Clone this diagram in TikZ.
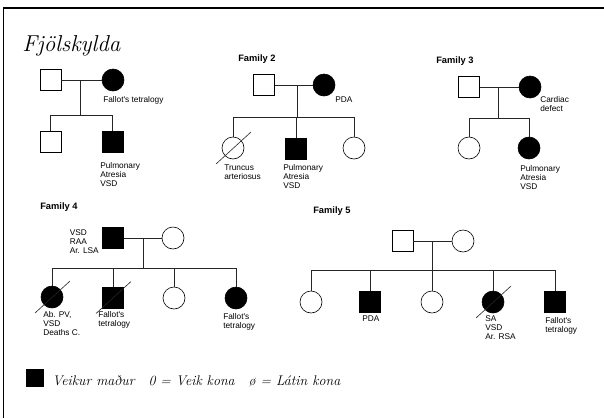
\documentclass[tikz,border=0pt]{standalone}
\usepackage{fontspec}
\newfontfamily\labelfont{Liberation Sans}
\tikzset{
  male/.style={draw, rectangle, minimum size=21pt, inner sep=0pt},
  female/.style={draw, circle, minimum size=22pt, inner sep=0pt},
  ill/.style={fill=black},
  note/.style={font=\labelfont\fontsize{8.3}{9}\selectfont, align=left, anchor=north west, inner sep=0pt},
  famlabel/.style={font=\labelfont\bfseries\fontsize{9.3}{10}\selectfont, anchor=north west, inner sep=0pt},
  tie/.style={line width=0.6pt, black!85},
}
\begin{document}
\begin{tikzpicture}[x=1pt, y=-1pt, line width=0.6pt]
        \useasboundingbox (0,0) rectangle (604,418);
        \draw[line width=1.2pt] (3.5,418) -- (3.5,8) -- (604,8);

        % Title
        \node[anchor=base west, inner sep=0pt, font=\itshape\fontsize{23}{25}\selectfont] (title) at (22,51) {Fjölskylda};

        % Family 1
        \node[male] (f1a) at (50.5,80) {};
        \node[female, ill] (f1b) at (113,80) {};
        \node[male] (f1c) at (50.5,141.5) {};
        \node[male, ill] (f1d) at (112.5,141.5) {};
        \coordinate (f1m) at (80,80);
        \coordinate (f1s) at (80,115);

        % Family 2
        \node[famlabel] (f2lab) at (238,54) {Family 2};
        \node[male] (f2a) at (264,85) {};
        \node[female, ill] (f2b) at (324,85) {};
        \node[female] (f2c) at (233,148) {};
        \node[male, ill] (f2d) at (296,148.5) {};
        \node[female] (f2e) at (354,148) {};
        \coordinate (f2m) at (297,85);
        \coordinate (f2s) at (297,117);

        % Family 3
        \node[famlabel] (f3lab) at (436,56) {Family 3};
        \node[male] (f3a) at (469,87) {};
        \node[female, ill] (f3b) at (530,87) {};
        \node[female] (f3c) at (469,148) {};
        \node[female, ill] (f3d) at (529,148) {};
        \coordinate (f3m) at (498,87);
        \coordinate (f3s) at (498,118);

        % Family 4
        \node[famlabel] (f4lab) at (40,202) {Family 4};
        \node[male, ill] (f4a) at (113,238) {};
        \node[female] (f4b) at (173,238) {};
        \node[female, ill] (f4c) at (52,297) {};
        \node[male, ill] (f4d) at (113,297.5) {};
        \node[female] (f4e) at (174,298) {};
        \node[female, ill] (f4f) at (236,298) {};
        \coordinate (f4m) at (143,238);
        \coordinate (f4s) at (143,268);

        % Family 5
        \node[famlabel] (f5lab) at (313,206) {Family 5};
        \node[male] (f5a) at (402.5,240.5) {};
        \node[female] (f5b) at (463,241) {};
        \node[female] (f5c) at (311,302) {};
        \node[male, ill] (f5d) at (370,302) {};
        \node[female] (f5e) at (432,302) {};
        \node[female, ill] (f5f) at (493,302) {};
        \node[male, ill] (f5g) at (555,302) {};
        \coordinate (f5m) at (432,241);
        \coordinate (f5s) at (432,270);

        % Marriages and descent
        \foreach \fam in {f1, f2, f3, f4, f5} {
            \draw[tie] (\fam a.east |- \fam m) -- (\fam b.west |- \fam m);
            \draw[tie] (\fam m) -- (\fam s);
        }

        % Sibships
        \draw[tie] (f1c.north) -- (f1c.north |- f1s) -- (f1d.north |- f1s) -- (f1d.north);
        \draw[tie] (f2c.north) -- (f2c.north |- f2s) -- (f2e.north |- f2s) -- (f2e.north);
        \draw[tie] (f3c.north) -- (f3c.north |- f3s) -- (f3d.north |- f3s) -- (f3d.north);
        \draw[tie] (f4c.north) -- (f4c.north |- f4s) -- (f4f.north |- f4s) -- (f4f.north);
        \draw[tie] (f5c.north) -- (f5c.north |- f5s) -- (f5g.north |- f5s) -- (f5g.north);
        \foreach \kid/\sib in {f2d/f2s, f4d/f4s, f4e/f4s, f5d/f5s, f5e/f5s, f5f/f5s}
            \draw[tie] (\kid.north) -- (\kid.north |- \sib);

        % Deceased
        \foreach \p in {f2c, f4c, f4d, f5f}
            \draw[tie] ([shift={(-17,16)}]\p.center) -- ([shift={(18,-16)}]\p.center);

        % Notes
        \node[note] (n1b) at (103,96) {Fallot's tetralogy};
        \node[note] (n1d) at (100,162) {Pulmonary\\Atresia\\VSD};
        \node[note] (n2b) at (335,96) {PDA};
        \node[note] (n2c) at (224,164) {Truncus\\arteriosus};
        \node[note] (n2d) at (283,164) {Pulmonary\\Atresia\\VSD};
        \node[note] (n3b) at (540,96) {Cardiac\\defect};
        \node[note] (n3d) at (520,165) {Pulmonary\\Atresia\\VSD};
        \node[note, anchor=north east] (n4a) at (99,229) {VSD\\RAA\\Ar. LSA};
        \node[note] (n4c) at (43,311) {Ab. PV,\\VSD\\Deaths C.};
        \node[note] (n4d) at (98,311) {Fallot's\\tetralogy};
        \node[note] (n4f) at (223,313) {Fallot's\\tetralogy};
        \node[note] (n5d) at (362,315) {PDA};
        \node[note] (n5f) at (485,315) {SA\\VSD\\Ar. RSA};
        \node[note] (n5g) at (545,317) {Fallot's\\tetralogy};

        % Legend
        \node[male, ill, minimum size=17pt] (key) at (35,378) {};
        \node[anchor=base west, inner sep=0pt, font=\itshape\fontsize{14}{16}\selectfont] (keytext) at (52,385)
            {Veikur maður\hspace{14pt}0 = Veik kona\hspace{14pt}ø = Látin kona};
\end{tikzpicture}
\end{document}
